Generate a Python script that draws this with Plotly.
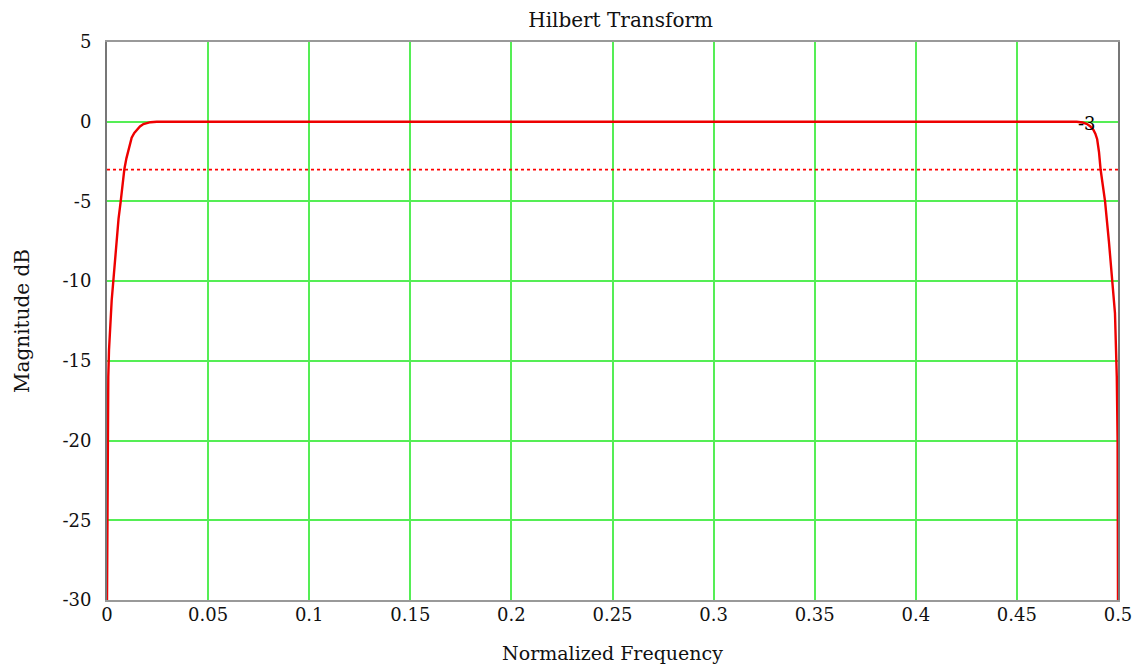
import plotly.graph_objects as go

# Magnitude response
freq = [0.0, 0.0002, 0.0004, 0.00064, 0.001, 0.0015, 0.00232, 0.00312, 0.0045,
        0.0057, 0.00678, 0.00856, 0.0096, 0.0105, 0.0122, 0.0135, 0.0147, 0.0163,
        0.018, 0.0198, 0.0215, 0.0246,
        0.1, 0.2, 0.3, 0.4, 0.4796, 0.4825, 0.4845, 0.4862, 0.4878, 0.4888, 0.4897,
        0.4906, 0.4914, 0.4925, 0.4936, 0.4955, 0.4972, 0.4985, 0.4994, 0.4998, 0.5]
mag_db = [-30.0, -22.0, -18.5, -16.0, -14.3, -12.8, -11.2, -10.0, -7.6,
          -6.1, -5.0, -3.0, -2.3, -1.8, -1.0, -0.7, -0.5, -0.3,
          -0.15, -0.07, -0.03, 0.0,
          0.0, 0.0, 0.0, 0.0, 0.0, -0.05, -0.13, -0.28, -0.5, -0.75, -1.1,
          -1.9, -3.0, -4.0, -5.0, -7.5, -10.0, -12.0, -16.0, -20.0, -30.0]

cutoff_db = -3
x_ticks = [0, 0.05, 0.1, 0.15, 0.2, 0.25, 0.3, 0.35, 0.4, 0.45, 0.5]
x_ticktext = ["0", "0.05", "0.1", "0.15", "0.2", "0.25", "0.3", "0.35", "0.4", "0.45", "0.5"]
y_ticks = [5, 0, -5, -10, -15, -20, -25, -30]
y_ticktext = ["5", "0", "-5", "-10", "-15", "-20", "-25", "-30"]

FONT = "DejaVu Serif"
GRID = "#55ee55"

fig = go.Figure()
fig.add_trace(go.Scatter(x=[0, 0.5], y=[cutoff_db, cutoff_db], mode="lines",
                         line=dict(color="#ff0000", width=1.8, dash="3px,3px"),
                         hoverinfo="skip", showlegend=False))
fig.add_trace(go.Scatter(x=freq, y=mag_db, mode="lines",
                         line=dict(color="#ee0000", width=2.4),
                         showlegend=False))

fig.add_annotation(x=0.4846, y=-0.1, xref="x", yref="y", text="-3", showarrow=False,
                   xanchor="center", yanchor="middle",
                   font=dict(family=FONT, size=18, color="black"))

fig.update_layout(
    width=1145, height=665,
    margin=dict(l=99, r=35, t=34, b=73),
    paper_bgcolor="white", plot_bgcolor="white",
    title=dict(text="Hilbert Transform", x=0.535, xanchor="center", y=0.982, yanchor="middle",
               font=dict(family=FONT, size=20, color="#111")),
    font=dict(family=FONT, size=18, color="#111"),
)
fig.update_xaxes(range=[0, 0.5], tickvals=x_ticks, ticktext=x_ticktext,
                 showgrid=True, gridcolor=GRID, gridwidth=1.5, zeroline=False,
                 showline=True, linecolor="#999", linewidth=2, mirror=True,
                 ticks="", ticklabelstandoff=-3,
                 title=dict(text="Normalized Frequency", standoff=23,
                            font=dict(family=FONT, size=19)))
fig.update_yaxes(range=[-30, 5], tickvals=y_ticks, ticktext=y_ticktext,
                 showgrid=True, gridcolor=GRID, gridwidth=1.5, zeroline=False,
                 showline=True, linecolor="#777", linewidth=2, mirror=True,
                 ticks="", ticklabelstandoff=10,
                 title=dict(text="Magnitude dB", standoff=27,
                            font=dict(family=FONT, size=20)))

fig.write_html("out.html")
